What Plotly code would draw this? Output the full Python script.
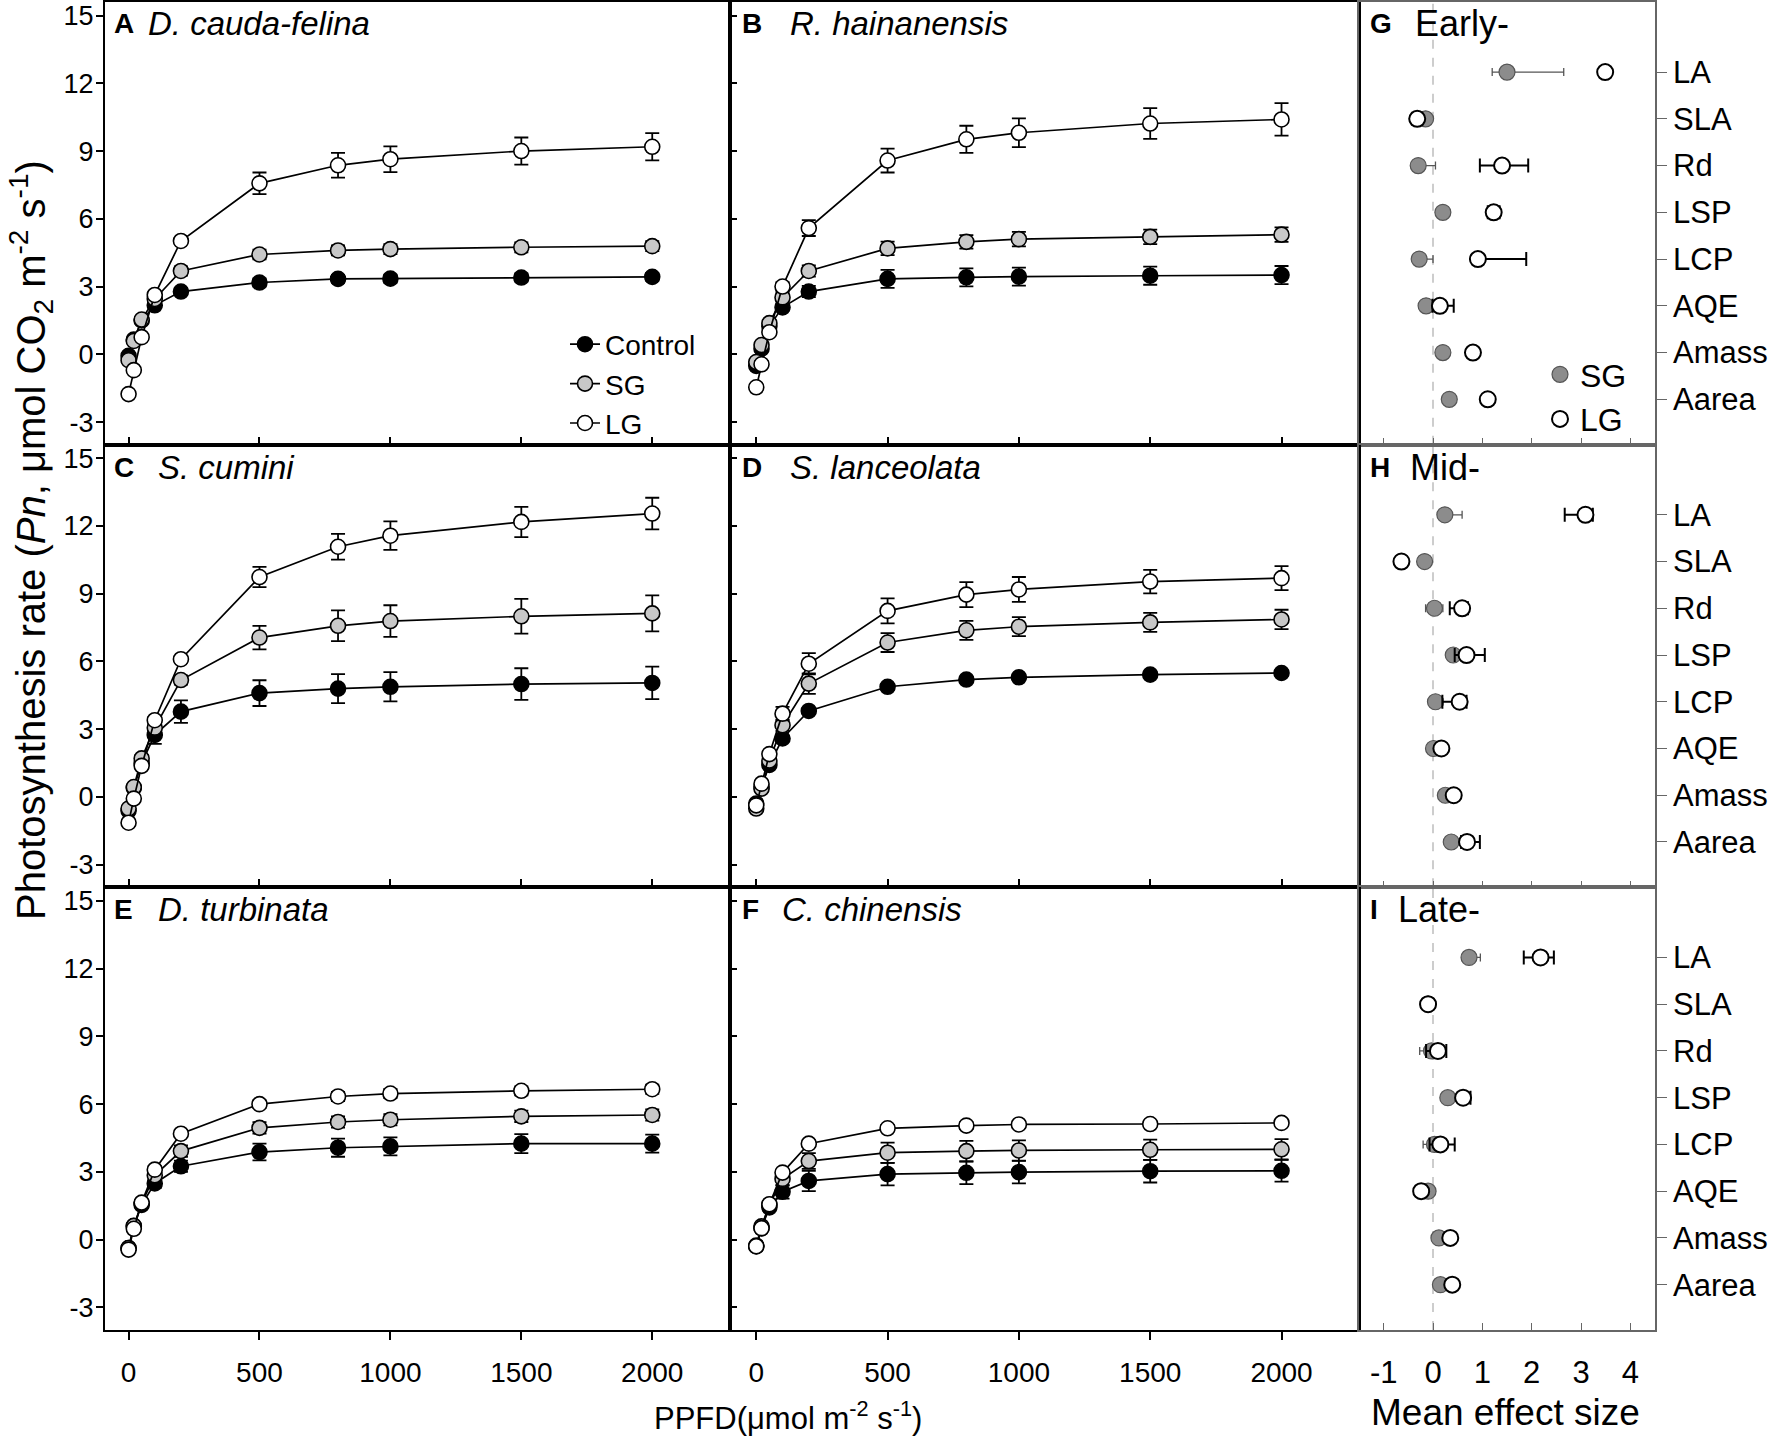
import plotly.graph_objects as go
from plotly.subplots import make_subplots

# light response curves, PPFD in umol m-2 s-1
ppfd = [0, 20, 50, 100, 200, 500, 800, 1000, 1500, 2000]

species = ["D. cauda-felina", "R. hainanensis", "S. cumini",
           "S. lanceolata", "D. turbinata", "C. chinensis"]
panel_letters = ["A", "B", "C", "D", "E", "F"]

# Pn means and SE per species: Control, SG, LG
ctrl_A = [-0.07, 0.65, 1.50, 2.17, 2.78, 3.18, 3.34, 3.35, 3.40, 3.43]
ctrl_A_se = [0.10, 0.10, 0.10, 0.12, 0.15, 0.18, 0.18, 0.18, 0.18, 0.18]
sg_A = [-0.26, 0.59, 1.54, 2.45, 3.69, 4.42, 4.60, 4.66, 4.74, 4.79]
sg_A_se = [0.10, 0.10, 0.12, 0.15, 0.20, 0.22, 0.22, 0.22, 0.22, 0.22]
lg_A = [-1.76, -0.70, 0.76, 2.63, 5.02, 7.57, 8.37, 8.64, 9.00, 9.19]
lg_A_se = [0.10, 0.10, 0.12, 0.15, 0.15, 0.48, 0.55, 0.57, 0.60, 0.60]

ctrl_B = [-0.51, 0.25, 1.24, 2.08, 2.78, 3.34, 3.41, 3.44, 3.48, 3.51]
ctrl_B_se = [0.10, 0.10, 0.12, 0.15, 0.25, 0.40, 0.40, 0.40, 0.40, 0.40]
sg_B = [-0.34, 0.41, 1.38, 2.52, 3.69, 4.69, 4.98, 5.10, 5.20, 5.30]
sg_B_se = [0.10, 0.10, 0.12, 0.20, 0.25, 0.30, 0.30, 0.32, 0.32, 0.32]
lg_B = [-1.46, -0.44, 0.98, 3.00, 5.59, 8.58, 9.52, 9.81, 10.22, 10.40]
lg_B_se = [0.12, 0.15, 0.15, 0.20, 0.35, 0.53, 0.60, 0.64, 0.68, 0.72]

ctrl_C = [-0.60, 0.40, 1.50, 2.75, 3.78, 4.60, 4.80, 4.88, 5.00, 5.05]
ctrl_C_se = [0.10, 0.10, 0.15, 0.40, 0.50, 0.57, 0.64, 0.65, 0.70, 0.72]
sg_C = [-0.51, 0.44, 1.71, 3.07, 5.18, 7.06, 7.58, 7.79, 8.00, 8.13]
sg_C_se = [0.10, 0.10, 0.15, 0.20, 0.20, 0.52, 0.68, 0.70, 0.77, 0.80]
lg_C = [-1.14, -0.07, 1.38, 3.40, 6.10, 9.74, 11.08, 11.57, 12.18, 12.55]
lg_C_se = [0.10, 0.10, 0.12, 0.15, 0.15, 0.45, 0.57, 0.63, 0.67, 0.70]

ctrl_D = [-0.29, 0.44, 1.42, 2.59, 3.81, 4.88, 5.20, 5.30, 5.42, 5.49]
ctrl_D_se = [0.10, 0.10, 0.10, 0.12, 0.12, 0.12, 0.12, 0.12, 0.12, 0.12]
sg_D = [-0.51, 0.37, 1.61, 3.18, 5.02, 6.84, 7.38, 7.54, 7.73, 7.86]
sg_D_se = [0.10, 0.10, 0.15, 0.25, 0.45, 0.42, 0.42, 0.42, 0.42, 0.43]
lg_D = [-0.37, 0.59, 1.90, 3.69, 5.90, 8.24, 8.96, 9.19, 9.54, 9.69]
lg_D_se = [0.10, 0.10, 0.12, 0.30, 0.47, 0.55, 0.55, 0.55, 0.52, 0.53]

ctrl_E = [-0.37, 0.60, 1.54, 2.49, 3.25, 3.88, 4.07, 4.13, 4.25, 4.25]
ctrl_E_se = [0.10, 0.10, 0.12, 0.20, 0.25, 0.37, 0.40, 0.40, 0.42, 0.40]
sg_E = [-0.37, 0.61, 1.61, 2.85, 3.92, 4.95, 5.21, 5.31, 5.46, 5.52]
sg_E_se = [0.10, 0.10, 0.12, 0.20, 0.25, 0.25, 0.25, 0.25, 0.25, 0.25]
lg_E = [-0.44, 0.48, 1.64, 3.10, 4.69, 6.00, 6.34, 6.47, 6.59, 6.66]
lg_E_se = [0.10, 0.10, 0.12, 0.15, 0.15, 0.18, 0.20, 0.20, 0.20, 0.20]

ctrl_F = [-0.30, 0.50, 1.43, 2.12, 2.60, 2.90, 2.96, 2.99, 3.03, 3.05]
ctrl_F_se = [0.10, 0.10, 0.15, 0.30, 0.45, 0.50, 0.50, 0.50, 0.50, 0.48]
sg_F = [-0.26, 0.59, 1.54, 2.69, 3.48, 3.85, 3.92, 3.95, 3.98, 4.00]
sg_F_se = [0.10, 0.10, 0.15, 0.30, 0.35, 0.45, 0.45, 0.45, 0.45, 0.45]
lg_F = [-0.29, 0.51, 1.57, 2.97, 4.25, 4.93, 5.05, 5.10, 5.12, 5.17]
lg_F_se = [0.10, 0.10, 0.10, 0.12, 0.15, 0.15, 0.15, 0.15, 0.15, 0.15]

pn_ticks = [-3, 0, 3, 6, 9, 12, 15]
pn_tick_text = ["-3", "0", "3", "6", "9", "12", "15"]
ppfd_ticks = [0, 500, 1000, 1500, 2000]

# mean effect sizes (SG, LG) for each successional stage
traits = ["LA", "SLA", "Rd", "LSP", "LCP", "AQE", "Amass", "Aarea"]
stages = ["Early-", "Mid-", "Late-"]
stage_letters = ["G", "H", "I"]
es_ticks = [-1, 0, 1, 2, 3, 4]
es_tick_text = ["-1", "0", "1", "2", "3", "4"]

sg_early = [1.50, -0.15, -0.30, 0.20, -0.28, -0.14, 0.20, 0.33]
sg_early_hi = [1.15, 0.05, 0.35, 0.05, 0.28, 0.05, 0.05, 0.05]
sg_early_lo = [0.30, 0.05, 0.05, 0.05, 0.05, 0.05, 0.05, 0.05]
lg_early = [3.49, -0.32, 1.40, 1.23, 0.91, 0.14, 0.81, 1.11]
lg_early_hi = [0.05, 0.10, 0.53, 0.12, 0.98, 0.28, 0.06, 0.05]
lg_early_lo = [0.05, 0.10, 0.45, 0.12, 0.07, 0.15, 0.06, 0.05]

sg_mid = [0.24, -0.17, 0.03, 0.41, 0.05, 0.01, 0.25, 0.37]
sg_mid_hi = [0.35, 0.05, 0.17, 0.05, 0.15, 0.05, 0.05, 0.05]
sg_mid_lo = [0.12, 0.05, 0.18, 0.05, 0.05, 0.05, 0.05, 0.05]
lg_mid = [3.09, -0.64, 0.59, 0.68, 0.54, 0.17, 0.42, 0.69]
lg_mid_hi = [0.15, 0.08, 0.12, 0.37, 0.14, 0.08, 0.06, 0.26]
lg_mid_lo = [0.42, 0.08, 0.25, 0.24, 0.35, 0.08, 0.06, 0.12]

sg_late = [0.73, -0.10, -0.03, 0.30, 0.03, -0.10, 0.12, 0.15]
sg_late_hi = [0.23, 0.05, 0.20, 0.05, 0.08, 0.05, 0.05, 0.05]
sg_late_lo = [0.10, 0.05, 0.24, 0.05, 0.23, 0.05, 0.05, 0.05]
lg_late = [2.18, -0.10, 0.10, 0.61, 0.15, -0.24, 0.35, 0.39]
lg_late_hi = [0.27, 0.05, 0.17, 0.15, 0.29, 0.05, 0.05, 0.05]
lg_late_lo = [0.34, 0.05, 0.24, 0.06, 0.22, 0.05, 0.05, 0.05]

curves = [
    (ctrl_A, ctrl_A_se, sg_A, sg_A_se, lg_A, lg_A_se),
    (ctrl_B, ctrl_B_se, sg_B, sg_B_se, lg_B, lg_B_se),
    (ctrl_C, ctrl_C_se, sg_C, sg_C_se, lg_C, lg_C_se),
    (ctrl_D, ctrl_D_se, sg_D, sg_D_se, lg_D, lg_D_se),
    (ctrl_E, ctrl_E_se, sg_E, sg_E_se, lg_E, lg_E_se),
    (ctrl_F, ctrl_F_se, sg_F, sg_F_se, lg_F, lg_F_se),
]
effects = [
    (sg_early, sg_early_hi, sg_early_lo, lg_early, lg_early_hi, lg_early_lo),
    (sg_mid, sg_mid_hi, sg_mid_lo, lg_mid, lg_mid_hi, lg_mid_lo),
    (sg_late, sg_late_hi, sg_late_lo, lg_late, lg_late_hi, lg_late_lo),
]

W, H = 1772, 1443
ML, MR, MT, MB = 105, 117, 2, 113
PW, PH = W - ML - MR, H - MT - MB

def px_x(px):
    return (px - ML) / PW

def px_y(py):
    return 1 - (py - MT) / PH

FONT = "Liberation Sans, Arial, sans-serif"

fig = make_subplots(rows=3, cols=3, horizontal_spacing=0, vertical_spacing=0,
                    column_widths=[625, 629, 296])

fills = ["black", "#c8c8c8", "white"]
names = ["Control", "SG", "LG"]

for i, c in enumerate(curves):
    row, col = i // 2 + 1, i % 2 + 1
    for k in range(3):
        fig.add_trace(go.Scatter(
            x=ppfd, y=c[2 * k], mode="lines+markers", name=names[k],
            showlegend=(i == 0), legend="legend",
            line=dict(color="black", width=1.7),
            marker=dict(size=15, color=fills[k], line=dict(color="black", width=1.6)),
            error_y=dict(type="data", array=c[2 * k + 1], color="black",
                         thickness=1.8, width=7),
        ), row=row, col=col)

for j, e in enumerate(effects):
    row = j + 1
    ypos = list(range(len(traits)))
    fig.add_trace(go.Scatter(
        x=e[0], y=ypos, mode="markers", name="SG",
        showlegend=(j == 0), legend="legend2",
        marker=dict(size=16, color="#8c8c8c", line=dict(color="#555555", width=1.2)),
        error_x=dict(type="data", symmetric=False, array=e[1], arrayminus=e[2],
                     color="#555555", thickness=1.3, width=4),
    ), row=row, col=3)
    fig.add_trace(go.Scatter(
        x=e[3], y=ypos, mode="markers", name="LG",
        showlegend=(j == 0), legend="legend2",
        marker=dict(size=16, color="white", line=dict(color="black", width=2)),
        error_x=dict(type="data", symmetric=False, array=e[4], arrayminus=e[5],
                     color="black", thickness=2, width=7),
    ), row=row, col=3)
    fig.add_vline(x=0, line=dict(color="#bdbdbd", width=1.5, dash="dash"),
                  layer="below", row=row, col=3)

# axes of the light-curve panels
for row in range(1, 4):
    for col in (1, 2):
        fig.update_xaxes(
            row=row, col=col,
            range=[-90, 2297] if col == 1 else [-100, 2295],
            tickvals=ppfd_ticks,
            showticklabels=(row == 3), ticklabelstandoff=8,
            ticks="outside" if row == 3 else "inside", ticklen=8,
            tickwidth=1.6, tickcolor="black",
            showline=True, mirror=True, linecolor="black", linewidth=2,
            showgrid=False, zeroline=False,
            tickfont=dict(size=28, family=FONT), automargin=False)
        fig.update_yaxes(
            row=row, col=col, range=[-4.0, 15.6],
            tickvals=pn_ticks, ticktext=pn_tick_text,
            showticklabels=(col == 1), ticklabelstandoff=-3,
            ticks="outside" if col == 1 else "inside", ticklen=7,
            tickwidth=1.6, tickcolor="black",
            showline=True, mirror=True, linecolor="black", linewidth=2,
            showgrid=False, zeroline=False,
            tickfont=dict(size=27, family=FONT), automargin=False)

# axes of the effect-size panels
for row in range(1, 4):
    fig.update_xaxes(
        row=row, col=3, range=[-1.5, 4.5],
        tickvals=es_ticks, ticktext=es_tick_text,
        showticklabels=(row == 3), ticklabelstandoff=14,
        ticks="inside", ticklen=7,
        tickwidth=1.2, tickcolor="#666666",
        showline=True, mirror=True, linecolor="#666666", linewidth=1.6,
        showgrid=False, zeroline=False,
        tickfont=dict(size=31, family=FONT), automargin=False)
    fig.update_yaxes(
        row=row, col=3, range=[7.97, -1.5],
        tickvals=list(range(len(traits))), ticktext=traits,
        side="right", ticks="outside", ticklen=10,
        tickwidth=1.2, tickcolor="#666666",
        showline=True, mirror=True, linecolor="#666666", linewidth=1.6,
        showgrid=False, zeroline=False,
        tickfont=dict(size=31, family=FONT), automargin=False)

annotations = []
col_left = [112, 740]
sp_left = [[146, 788], [156, 788], [156, 780]]
row_top = [0, 443, 886]
for i, sp in enumerate(species):
    r, c = i // 2, i % 2
    yc = px_y(row_top[r] + 24)
    annotations.append(dict(x=px_x(col_left[c]), y=yc, xref="paper", yref="paper",
                            text="<b>" + panel_letters[i] + "</b>", showarrow=False,
                            xanchor="left", yanchor="middle",
                            font=dict(size=28, family=FONT)))
    annotations.append(dict(x=px_x(sp_left[r][c]), y=yc, xref="paper", yref="paper",
                            text="<i>" + sp + "</i>", showarrow=False,
                            xanchor="left", yanchor="middle",
                            font=dict(size=33, family=FONT)))

stage_left = [1413, 1408, 1396]
for j, st in enumerate(stages):
    yc = px_y(row_top[j] + 24)
    annotations.append(dict(x=px_x(1368), y=yc, xref="paper", yref="paper",
                            text="<b>" + stage_letters[j] + "</b>", showarrow=False,
                            xanchor="left", yanchor="middle",
                            font=dict(size=28, family=FONT)))
    annotations.append(dict(x=px_x(stage_left[j]), y=yc, xref="paper", yref="paper",
                            text=st, showarrow=False, xanchor="left", yanchor="middle",
                            font=dict(size=36, family=FONT)))

annotations.append(dict(
    x=px_x(31), y=px_y(540), xref="paper", yref="paper", textangle=-90,
    text="Photosynthesis rate (<i>Pn</i>, μmol CO<sub>2</sub> m<sup>-2</sup> s<sup>-1</sup>)",
    showarrow=False, xanchor="center", yanchor="middle",
    font=dict(size=40, family=FONT)))
annotations.append(dict(
    x=px_x(788), y=px_y(1416), xref="paper", yref="paper",
    text="PPFD(μmol m<sup>-2</sup> s<sup>-1</sup>)",
    showarrow=False, xanchor="center", yanchor="middle",
    font=dict(size=31, family=FONT)))
annotations.append(dict(
    x=px_x(1505), y=px_y(1412), xref="paper", yref="paper",
    text="Mean effect size", showarrow=False, xanchor="center", yanchor="middle",
    font=dict(size=37, family=FONT)))

fig.update_layout(
    width=W, height=H,
    margin=dict(l=ML, r=MR, t=MT, b=MB),
    plot_bgcolor="white", paper_bgcolor="white",
    font=dict(family=FONT, color="black"),
    annotations=annotations,
    legend=dict(x=px_x(565), y=px_y(384), xanchor="left", yanchor="middle",
                bgcolor="rgba(0,0,0,0)", font=dict(size=28, family=FONT),
                tracegroupgap=0),
    legend2=dict(x=px_x(1540), y=px_y(397), xanchor="left", yanchor="middle",
                 bgcolor="rgba(0,0,0,0)", font=dict(size=32, family=FONT)),
)

# drop the default page margin so the figure starts at the window corner
fig.write_html("out.html", config={"displayModeBar": False},
               post_script="document.body.style.margin = '0';")
